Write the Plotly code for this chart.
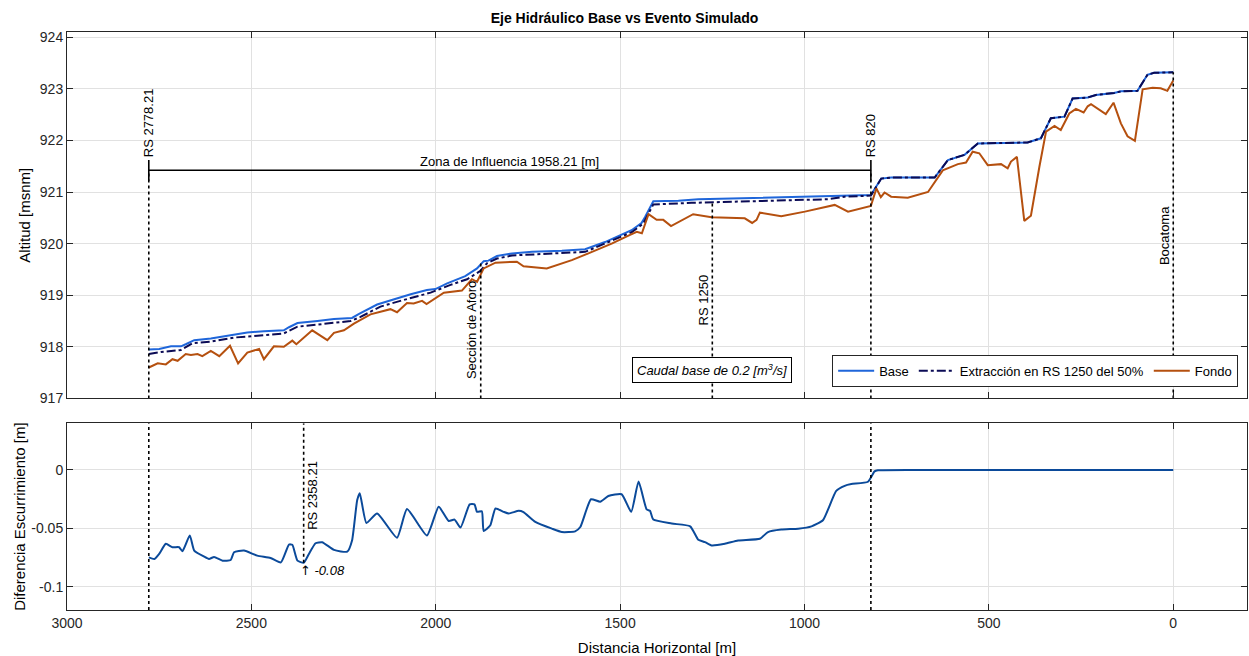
import plotly.graph_objects as go

# ---------------- data ----------------
base_x = [2778, 2750, 2718, 2691, 2678, 2655, 2610, 2556, 2511, 2466, 2412, 2398, 2375, 2321, 2276, 2227,
          2208, 2159, 2105, 2068, 2024, 2001, 1969, 1920, 1888, 1870, 1857, 1834, 1793, 1739, 1658, 1595,
          1541, 1487, 1469, 1442, 1432, 1410, 1342, 1288, 1162, 936, 891, 820, 792, 765, 647, 611, 566,
          530, 395, 359, 332, 295, 273, 232, 210, 160, 142, 97, 70, 52, 0]
base_y = [917.95, 917.96, 918.01, 918.01, 918.05, 918.13, 918.16, 918.23, 918.28, 918.30, 918.32, 918.38,
          918.46, 918.50, 918.54, 918.56, 918.64, 918.82, 918.94, 919.02, 919.10, 919.12, 919.23, 919.37,
          919.52, 919.66, 919.67, 919.76, 919.81, 919.84, 919.86, 919.89, 920.03, 920.20, 920.26, 920.40,
          920.52, 920.82, 920.83, 920.86, 920.88, 920.91, 920.93, 920.94, 921.26, 921.28, 921.28, 921.62,
          921.72, 921.94, 921.96, 922.04, 922.43, 922.46, 922.81, 922.83, 922.88, 922.92, 922.95, 922.96,
          923.27, 923.31, 923.32]

ext_x = [2778, 2745, 2691, 2660, 2610, 2547, 2493, 2412, 2375, 2321, 2231, 2204, 2150, 2096, 2014, 1960,
         1915, 1879, 1861, 1834, 1793, 1595, 1541, 1469, 1437, 1410, 1306, 1162, 936, 891, 820, 792, 765,
         647, 611, 566, 530, 395, 359, 332, 295, 273, 232, 210, 160, 142, 97, 70, 52, 0]
ext_y = [917.86, 917.90, 917.94, 918.07, 918.10, 918.18, 918.21, 918.26, 918.39, 918.43, 918.50, 918.58,
         918.78, 918.89, 919.05, 919.20, 919.31, 919.47, 919.62, 919.71, 919.77, 919.84, 920.00, 920.22,
         920.39, 920.76, 920.79, 920.82, 920.86, 920.91, 920.93, 921.26, 921.28, 921.28, 921.62, 921.72,
         921.94, 921.96, 922.04, 922.43, 922.46, 922.81, 922.83, 922.88, 922.92, 922.95, 922.96, 923.27,
         923.31, 923.32]

fondo_x = [2778, 2754, 2732, 2714, 2700, 2678, 2664, 2646, 2633, 2610, 2587, 2558, 2536, 2511, 2479, 2466,
           2439, 2412, 2389, 2378, 2335, 2294, 2276, 2249, 2222, 2177, 2123, 2105, 2078, 2060, 2037, 2025,
           1978, 1929, 1902, 1888, 1870, 1838, 1780, 1762, 1699, 1631, 1586, 1523, 1473, 1455, 1441, 1423,
           1401, 1383, 1362, 1302, 1252, 1162, 1142, 1130, 1121, 1063, 999, 918, 882, 820, 805, 793, 783,
           765, 720, 665, 625, 584, 562, 544, 526, 503, 467, 449, 440, 424, 404, 386, 363, 345, 322, 305,
           282, 264, 243, 232, 223, 183, 162, 142, 124, 104, 83, 56, 34, 16, 0]
fondo_y = [917.60, 917.68, 917.66, 917.76, 917.73, 917.86, 917.84, 917.86, 917.82, 917.92, 917.82, 918.02,
           917.68, 917.89, 917.96, 917.76, 918.01, 918.00, 918.12, 918.05, 918.32, 918.13, 918.27, 918.32,
           918.45, 918.63, 918.73, 918.67, 918.85, 918.84, 918.89, 918.83, 919.05, 919.09, 919.31, 919.26,
           919.52, 919.63, 919.65, 919.56, 919.52, 919.68, 919.81, 920.00, 920.17, 920.23, 920.20, 920.57,
           920.46, 920.46, 920.34, 920.57, 920.51, 920.49, 920.40, 920.46, 920.60, 920.53, 920.62, 920.75,
           920.62, 920.73, 921.07, 920.90, 920.99, 920.91, 920.89, 921.00, 921.42, 921.54, 921.57, 921.78,
           921.75, 921.52, 921.54, 921.46, 921.59, 921.68, 920.44, 920.54, 921.49, 922.17, 922.28, 922.20,
           922.52, 922.61, 922.54, 922.66, 922.70, 922.51, 922.73, 922.33, 922.08, 921.99, 922.99, 923.02,
           923.01, 922.96, 923.16]

diff_x = [2778, 2763, 2750, 2732, 2714, 2696, 2687, 2667, 2655, 2628, 2615, 2601, 2578, 2556, 2547, 2520,
          2484, 2448, 2420, 2398, 2389, 2375, 2358, 2344, 2326, 2308, 2276, 2240, 2227, 2213, 2206, 2188,
          2159, 2105, 2078, 2024, 1992, 1965, 1949, 1933, 1908, 1895, 1888, 1875, 1870, 1852, 1838, 1816,
          1802, 1775, 1762, 1730, 1685, 1658, 1622, 1608, 1579, 1554, 1532, 1496, 1470, 1450, 1428, 1419,
          1410, 1360, 1310, 1288, 1270, 1252, 1216, 1180, 1121, 1099, 1063, 1017, 981, 950, 914, 891, 873,
          828, 810, 801, 700, 500, 300, 100, 0]
diff_y = [-0.0749, -0.0763, -0.0719, -0.0633, -0.0662, -0.0662, -0.0697, -0.0561, -0.0691, -0.0743, -0.0763,
          -0.0745, -0.0777, -0.0771, -0.0705, -0.0691, -0.0734, -0.0754, -0.0792, -0.0639, -0.0641, -0.0777,
          -0.0795, -0.0720, -0.0628, -0.0619, -0.0685, -0.0700, -0.0604, -0.0257, -0.0199, -0.0454, -0.0373,
          -0.0581, -0.0335, -0.0561, -0.0316, -0.0437, -0.0425, -0.0494, -0.0295, -0.0295, -0.0359, -0.0353,
          -0.0523, -0.0474, -0.0330, -0.0359, -0.0373, -0.0350, -0.0361, -0.0445, -0.0503, -0.0532, -0.0526,
          -0.0489, -0.0251, -0.0272, -0.0223, -0.0208, -0.0359, -0.0099, -0.0338, -0.0350, -0.0425, -0.0459,
          -0.0483, -0.0598, -0.0619, -0.0647, -0.0633, -0.0604, -0.0589, -0.0532, -0.0511, -0.0503, -0.0483,
          -0.0431, -0.0179, -0.0136, -0.0121, -0.0101, -0.0012, -0.0003, 0.0, 0.0, 0.0, 0.0, 0.0]

# stations (top panel): label, x position, top of dotted line
station_labels = ["Sección de Aforo", "RS 1250", "Bocatoma"]
station_x = [1878, 1250, 0]
station_top = [919.66, 920.83, 923.32]

zone_start = 2778.21
zone_end = 820
zone_level = 921.42
zone_label = "Zona de Influencia 1958.21 [m]"

rs_ext_label = "RS 2358.21"
rs_ext_x = 2358.21
min_arrow = "↑"
min_value = "-0.08"
min_level = -0.0795

# bottom panel dotted lines: x and lower end
bottom_lines_x = [2778.21, 2358.21, 820]
bottom_lines_low = [-0.12, min_level, -0.12]

caudal_text = "<i>Caudal base de 0.2 [m<sup>3</sup>/s]</i>"

# ---------------- figure ----------------
FONT = "Arial, Liberation Sans, DejaVu Sans, sans-serif"
BLUE = "#1f66da"
NAVY = "#0b0b55"
BROWN = "#b5500f"
DIFFC = "#0b4a9a"
GRID = "#e1e1e1"
AX = "#262626"

fig = go.Figure()

fig.add_trace(go.Scatter(x=base_x, y=base_y, mode="lines", name="Base",
                         line=dict(color=BLUE, width=2), xaxis="x", yaxis="y"))
fig.add_trace(go.Scatter(x=ext_x, y=ext_y, mode="lines", name="Extracción en RS 1250 del 50%",
                         line=dict(color=NAVY, width=2, dash="dashdot"), xaxis="x", yaxis="y"))
fig.add_trace(go.Scatter(x=fondo_x, y=fondo_y, mode="lines", name="Fondo",
                         line=dict(color=BROWN, width=2), xaxis="x", yaxis="y"))

dot = dict(color="black", width=1.6, dash="dot")
for xv in [zone_start, zone_end]:
    fig.add_trace(go.Scatter(x=[xv, xv], y=[917, zone_level], mode="lines", line=dot,
                             showlegend=False, hoverinfo="skip", xaxis="x", yaxis="y"))
for xv, top in zip(station_x, station_top):
    fig.add_trace(go.Scatter(x=[xv, xv], y=[917, top], mode="lines", line=dot,
                             showlegend=False, hoverinfo="skip", xaxis="x", yaxis="y"))
solid = dict(color="black", width=1.6)
fig.add_trace(go.Scatter(x=[zone_start, zone_end], y=[zone_level, zone_level], mode="lines",
                         line=solid, showlegend=False, hoverinfo="skip", xaxis="x", yaxis="y"))
for xv in [zone_start, zone_end]:
    fig.add_trace(go.Scatter(x=[xv, xv], y=[zone_level - 0.2, zone_level + 0.2], mode="lines",
                             line=solid, showlegend=False, hoverinfo="skip", xaxis="x", yaxis="y"))

fig.add_trace(go.Scatter(x=diff_x, y=diff_y, mode="lines",
                         line=dict(color=DIFFC, width=2, shape="spline", smoothing=0.5),
                         showlegend=False, xaxis="x2", yaxis="y2"))
for xv, low in zip(bottom_lines_x, bottom_lines_low):
    fig.add_trace(go.Scatter(x=[xv, xv], y=[low, 0.04], mode="lines", line=dot,
                             showlegend=False, hoverinfo="skip", xaxis="x2", yaxis="y2"))

ann = []
tf = dict(family=FONT, size=13, color="black")
ann.append(dict(x=zone_start, y=zone_level + 0.22, xref="x", yref="y", text="RS 2778.21",
                textangle=-90, xanchor="center", yanchor="bottom", showarrow=False, font=tf))
ann.append(dict(x=zone_end, y=zone_level + 0.22, xref="x", yref="y", text="RS 820",
                textangle=-90, xanchor="center", yanchor="bottom", showarrow=False, font=tf))
for lab, xv, top in zip(station_labels, station_x, station_top):
    ann.append(dict(x=xv, y=(917 + top) / 2, xref="x", yref="y", text=lab, textangle=-90,
                    xanchor="right", yanchor="middle", showarrow=False, font=tf, xshift=1))
ann.append(dict(x=(zone_start + zone_end) / 2, y=zone_level, xref="x", yref="y", text=zone_label,
                xanchor="center", yanchor="bottom", showarrow=False, font=tf, yshift=-1))
ann.append(dict(x=1252, y=917.55, xref="x", yref="y", text=caudal_text, showarrow=False,
                font=tf, bordercolor="black", borderwidth=1, borderpad=4, bgcolor="white"))
ann.append(dict(x=rs_ext_x, y=-0.022, xref="x2", yref="y2", text=rs_ext_label, textangle=-90,
                xanchor="left", yanchor="middle", showarrow=False, font=tf, xshift=-1))
ann.append(dict(x=rs_ext_x, y=-0.0865, xref="x2", yref="y2",
                text="<span style='font-family:DejaVu Sans'>" + min_arrow + "</span> <i>" + min_value + "</i>",
                xanchor="left", yanchor="middle", showarrow=False, font=tf, xshift=-6))

axis_common = dict(showline=True, linecolor=AX, linewidth=1, mirror="ticks", ticks="inside",
                   ticklen=6, tickcolor=AX, showgrid=True, gridcolor=GRID, gridwidth=1,
                   zeroline=False, automargin=False,
                   tickfont=dict(family=FONT, size=14, color="#262626"))

fig.update_layout(
    width=1249, height=656,
    margin=dict(l=67, r=2, t=32, b=46, autoexpand=False),
    paper_bgcolor="white", plot_bgcolor="white",
    font=dict(family=FONT, size=13, color="black"),
    title=dict(text="<b>Eje Hidráulico Base vs Evento Simulado</b>", x=0.5, xanchor="center",
               y=1 - 18 / 656, yanchor="middle", font=dict(family=FONT, size=14, color="black")),
    xaxis=dict(axis_common, domain=[0, 1], range=[3000, -200], anchor="y", showticklabels=False,
               tickvals=[3000, 2500, 2000, 1500, 1000, 500, 0], matches="x2"),
    yaxis=dict(axis_common, domain=[0.366, 1], range=[917, 924.1], anchor="x",
               tickvals=[917, 918, 919, 920, 921, 922, 923, 924],
               title=dict(text="Altitud [msnm]", font=dict(family=FONT, size=15), standoff=5)),
    xaxis2=dict(axis_common, domain=[0, 1], range=[3000, -200], anchor="y2",
                tickvals=[3000, 2500, 2000, 1500, 1000, 500, 0],
                title=dict(text="Distancia Horizontal [m]", font=dict(family=FONT, size=15), standoff=12)),
    yaxis2=dict(axis_common, domain=[0, 0.323], range=[-0.12, 0.04], anchor="x2",
                tickvals=[-0.1, -0.05, 0], ticktext=["-0.1", "-0.05", "0"],
                title=dict(text="Diferencia Escurrimiento [m]", font=dict(family=FONT, size=15), standoff=2)),
    legend=dict(orientation="h", x=0.9925, xanchor="right", y=0.386, yanchor="bottom",
                bgcolor="white", bordercolor="#262626", borderwidth=1,
                font=dict(family=FONT, size=13, color="black"), itemwidth=36,
                tracegroupgap=0),
    annotations=ann,
    showlegend=True,
)

fig.write_html("out.html", config={"displayModeBar": False},
               post_script="document.body.style.margin='0px';")
